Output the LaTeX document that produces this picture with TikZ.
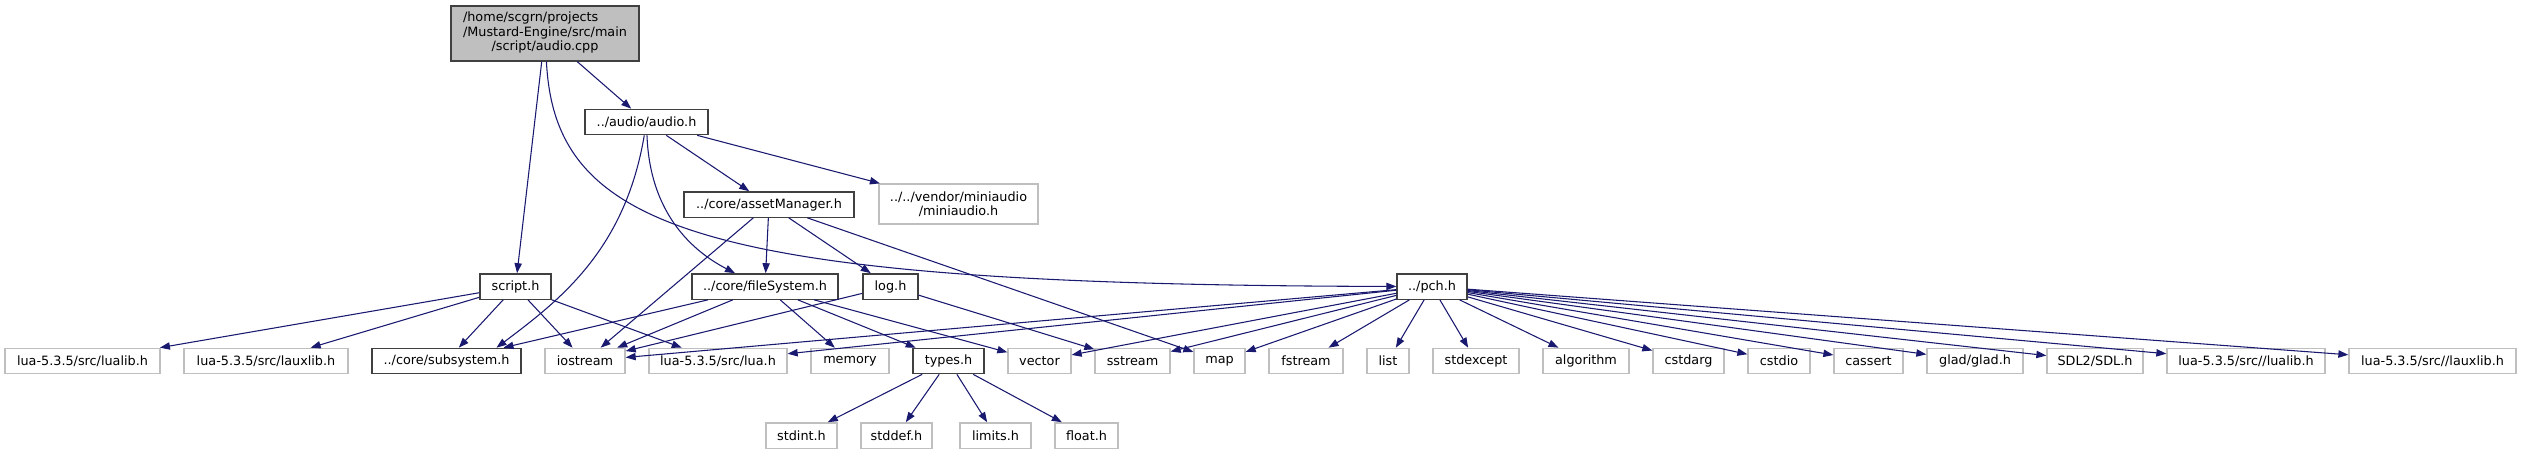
\documentclass[tikz,border=0pt]{standalone}
\usepackage{fontspec}
\setmainfont{DejaVu Sans}
\usepackage{tikz}
\usepackage{xcolor}
\usetikzlibrary{arrows.meta, positioning}
\definecolor{doxyNavy}{RGB}{25,25,112}
\definecolor{doxyInk}{RGB}{64,64,64}
\definecolor{doxyGrey}{RGB}{191,191,191}

\begin{document}
\begin{tikzpicture}[x=0.75pt, y=-0.75pt,
      header/.style={rectangle, draw=doxyInk, line width=1pt, fill=white, inner sep=0pt,
      minimum height=19pt, font=\fontsize{9.6}{10.8}\selectfont},
      syshdr/.style={header, draw=doxyGrey},
      mainfile/.style={header, fill=doxyGrey, minimum height=41.25pt},
      arrow/.style={-{Triangle[length=7.5pt, width=5.5pt]}, line width=0.8pt, draw=doxyNavy}
    ]
    \useasboundingbox (0,0) rectangle (2525,455);

    \node[mainfile, minimum width=141pt] (root) at (545,33.5)
      {\begin{tabular}{@{}l@{}}/home/scgrn/projects\\/Mustard-Engine/src/main\\\multicolumn{1}{@{}c@{}}{/script/audio.cpp}\end{tabular}};
    \node[header, minimum width=92.25pt] (audio) at (646.5,122) {../audio/audio.h};
    \node[header, minimum width=127.5pt] (assetmgr) at (769,204.5) {../core/assetManager.h};
    \node[syshdr, minimum width=119.25pt, minimum height=30pt, align=center] (miniaudio) at (958.5,204)
      {../../vendor/miniaudio\\/miniaudio.h};

    \node[header, minimum width=53.25pt] (script) at (515.5,286.5) {script.h};
    \node[header, minimum width=109.5pt] (filesys) at (765,286.5) {../core/fileSystem.h};
    \node[header, minimum width=41.25pt] (log) at (890.5,286.5) {log.h};
    \node[header, minimum width=52.5pt] (pch) at (1432,286.5) {../pch.h};

    \node[syshdr, minimum width=116.25pt] (lualib) at (82.5,361) {lua-5.3.5/src/lualib.h};
    \node[syshdr, minimum width=123pt, right=17pt of lualib] (lauxlib) {lua-5.3.5/src/lauxlib.h};
    \node[header, minimum width=111.75pt, right=17pt of lauxlib] (subsystem) {../core/subsystem.h};
    \node[syshdr, minimum width=60pt, right=17pt of subsystem] (iostream) {iostream};
    \node[syshdr, minimum width=103.5pt, right=17pt of iostream] (lua) {lua-5.3.5/src/lua.h};
    \node[syshdr, minimum width=58.5pt, right=17pt of lua] (memory) {memory};
    \node[header, minimum width=53.25pt, right=17pt of memory] (types) {types.h};
    \node[syshdr, minimum width=47.25pt, right=17pt of types] (vector) {vector};
    \node[syshdr, minimum width=56.25pt, right=17pt of vector] (sstream) {sstream};
    \node[syshdr, minimum width=38.25pt, right=17pt of sstream] (map) {map};
    \node[syshdr, minimum width=55.5pt, right=17pt of map] (fstream) {fstream};
    \node[syshdr, minimum width=31.5pt, right=17pt of fstream] (list) {list};
    \node[syshdr, minimum width=64.5pt, right=17pt of list] (stdexcept) {stdexcept};
    \node[syshdr, minimum width=64.5pt, right=17pt of stdexcept] (algorithm) {algorithm};
    \node[syshdr, minimum width=53.25pt, right=17pt of algorithm] (cstdarg) {cstdarg};
    \node[syshdr, minimum width=46.5pt, right=17pt of cstdarg] (cstdio) {cstdio};
    \node[syshdr, minimum width=51.75pt, right=17pt of cstdio] (cassert) {cassert};
    \node[syshdr, minimum width=72pt, right=17pt of cassert] (glad) {glad/glad.h};
    \node[syshdr, minimum width=72pt, right=17pt of glad] (sdl) {SDL2/SDL.h};
    \node[syshdr, minimum width=118.5pt, right=17pt of sdl] (lualibx) {lua-5.3.5/src//lualib.h};
    \node[syshdr, minimum width=125.25pt, right=17pt of lualibx] (lauxlibx) {lua-5.3.5/src//lauxlib.h};

    \node[syshdr, minimum width=53.25pt] (stdint) at (801.5,435.5) {stdint.h};
    \node[syshdr, minimum width=53.25pt] (stddef) at (896.5,435.5) {stddef.h};
    \node[syshdr, minimum width=53.25pt] (limits) at (995.5,435.5) {limits.h};
    \node[syshdr, minimum width=47.25pt] (floath) at (1086.5,435.5) {float.h};

    \draw[arrow] (root) -- (audio);
    \draw[arrow] (root) -- (script);
    \draw[arrow] (root) .. controls (555,230) and (700,285) .. (pch);
    \draw[arrow] (audio) -- (assetmgr);
    \draw[arrow] (audio) -- (miniaudio);
    \draw[arrow] (audio) .. controls (650,220) and (700,255) .. ([xshift=-22.5pt]filesys.north);
    \draw[arrow] (audio) .. controls (625,250) and (560,300) .. ([xshift=37.5pt]subsystem.north);
    \draw[arrow] (assetmgr) -- (iostream);
    \draw[arrow] (assetmgr) -- (filesys);
    \draw[arrow] (assetmgr) -- (log);
    \draw[arrow] (assetmgr) -- (map);
    \draw[arrow] (script) -- (lualib);
    \draw[arrow] (script) -- (lauxlib);
    \draw[arrow] (script) -- (subsystem);
    \draw[arrow] (script) -- (iostream);
    \draw[arrow] (script) -- (lua);
    \draw[arrow] (filesys) -- (subsystem);
    \draw[arrow] (filesys) -- (iostream);
    \draw[arrow] (filesys) -- (memory);
    \draw[arrow] (filesys) -- (types);
    \draw[arrow] (filesys) -- (vector);
    \draw[arrow] (log) -- (iostream);
    \draw[arrow] (log) -- (sstream);
    \draw[arrow] (pch) -- (iostream);
    \draw[arrow] (pch) -- (lua);
    \draw[arrow] (pch) -- (vector);
    \draw[arrow] (pch) -- (sstream);
    \draw[arrow] (pch) -- (map);
    \draw[arrow] (pch) -- (fstream);
    \draw[arrow] (pch) -- (list);
    \draw[arrow] (pch) -- (stdexcept);
    \draw[arrow] (pch) -- (algorithm);
    \draw[arrow] (pch) -- (cstdarg);
    \draw[arrow] (pch) -- (cstdio);
    \draw[arrow] (pch) -- (cassert);
    \draw[arrow] (pch) -- (glad);
    \draw[arrow] (pch) -- (sdl);
    \draw[arrow] (pch) -- (lualibx);
    \draw[arrow] (pch) -- (lauxlibx);
    \draw[arrow] (types) -- (stdint);
    \draw[arrow] (types) -- (stddef);
    \draw[arrow] (types) -- (limits);
    \draw[arrow] (types) -- (floath);
  \end{tikzpicture}
\end{document}
